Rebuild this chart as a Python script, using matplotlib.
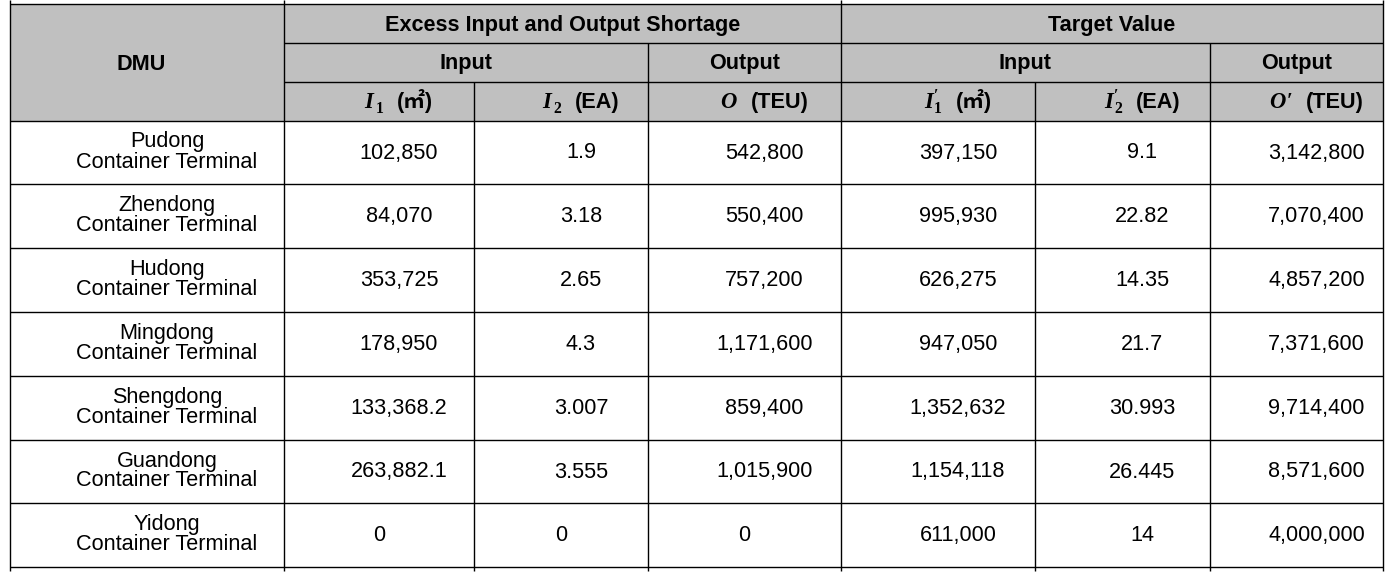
import matplotlib
matplotlib.use("Agg")
import matplotlib.pyplot as plt
from matplotlib.patches import Rectangle

FAM = ['Liberation Sans', 'Noto Sans CJK SC', 'DejaVu Sans']
SERIF = ['Liberation Serif', 'DejaVu Serif']

# ---- data ----
dmus = ["Pudong", "Zhendong", "Hudong", "Mingdong", "Shengdong", "Guandong", "Yidong"]
dmu_suffix = "Container Terminal"
excess_i1 = ["102,850", "84,070", "353,725", "178,950", "133,368.2", "263,882.1", "0"]
excess_i2 = ["1.9", "3.18", "2.65", "4.3", "3.007", "3.555", "0"]
shortage_o = ["542,800", "550,400", "757,200", "1,171,600", "859,400", "1,015,900", "0"]
target_i1 = ["397,150", "995,930", "626,275", "947,050", "1,352,632", "1,154,118", "611,000"]
target_i2 = ["9.1", "22.82", "14.35", "21.7", "30.993", "26.445", "14"]
target_o = ["3,142,800", "7,070,400", "4,857,200", "7,371,600", "9,714,400", "8,571,600", "4,000,000"]
group_headers = ["Excess Input and Output Shortage", "Target Value"]
sub_headers = ["Input", "Output", "Input", "Output"]
# (symbol, prime, subscript, unit)
col_symbols = ["I", "I", "O", "I", "I", "O"]
col_primes = [False, False, False, True, True, True]
col_subs = ["1", "2", "", "1", "2", ""]
col_units = ["(㎡)", "(EA)", "(TEU)", "(㎡)", "(EA)", "(TEU)"]

# ---- layout ----
W, H = 1393, 576
xs = [10, 284, 474, 648, 841, 1035, 1210, 1383]
ys_head = [4, 43, 82, 121]
ys_rows = [121, 184, 248, 312, 376, 440, 503, 567]
FS = 15.6
HEAD_BG = "#c0c0c0"
OFF = 20  # data text offset to the right

fig = plt.figure(figsize=(W / 100, H / 100), dpi=100)
ax = fig.add_axes([0, 0, 1, 1])
ax.set_xlim(0, W)
ax.set_ylim(H, 0)
ax.axis("off")
renderer = fig.canvas.get_renderer()

ax.add_patch(Rectangle((xs[0], ys_head[0]), xs[-1] - xs[0], ys_head[-1] - ys_head[0],
                       facecolor=HEAD_BG, edgecolor="none", zorder=0))

def txt(x, y, s, bold=False, va="baseline"):
    ax.text(x, y, s, ha="center", va=va, fontsize=FS, family=FAM,
            fontweight="bold" if bold else "normal", color="black", zorder=3)

def hline(y, x0, x1):
    ax.plot([x0, x1], [y, y], color="black", lw=1.0, solid_capstyle="butt", zorder=2)

def vline(x, y0, y1):
    ax.plot([x, x], [y0, y1], color="black", lw=1.0, solid_capstyle="butt", zorder=2)

def composite(xc, yb, sym, prime, sub, unit):
    # pieces: (text, kwargs, dy, va, gap_before)
    pieces = [(sym, dict(family=SERIF, style="italic", fontweight="bold", fontsize=16.3),
               0, "baseline", 0)]
    if prime and sub:
        pieces.append(("′\n" + sub, dict(family=SERIF, fontweight="bold", fontsize=11.3,
                                          linespacing=0.75), 5, "baseline", 1))
    elif prime:
        pieces.append(("′", dict(family=SERIF, fontweight="bold", fontsize=15), -1, "baseline", 1))
    elif sub:
        pieces.append((sub, dict(family=SERIF, fontweight="bold", fontsize=11.3), 5, "baseline", 2))
    pieces.append((unit, dict(family=FAM, fontweight="bold", fontsize=FS), 0, "baseline", 14))
    objs = []
    x = 0.0
    for s, kw, dy, va, gap in pieces:
        x += gap
        t = ax.text(x, yb + dy, s, ha="left", va=va, color="black", zorder=3, **kw)
        w = t.get_window_extent(renderer).width
        objs.append(t)
        x += w
    total = x
    x0 = xc - total / 2
    for t in objs:
        px, py = t.get_position()
        t.set_position((px + x0, py))

# header texts
txt((xs[0] + xs[1]) / 2 - 6, (ys_head[0] + ys_head[3]) / 2 + 8, "DMU", bold=True)
txt((xs[1] + xs[4]) / 2, (ys_head[0] + ys_head[1]) / 2 + 7.5, group_headers[0], bold=True)
txt((xs[4] + xs[7]) / 2, (ys_head[0] + ys_head[1]) / 2 + 7.5, group_headers[1], bold=True)
spans = [(1, 3), (3, 4), (4, 6), (6, 7)]
for (a, b), s in zip(spans, sub_headers):
    txt((xs[a] + xs[b]) / 2, (ys_head[1] + ys_head[2]) / 2 + 7, s, bold=True)
for j in range(6):
    composite((xs[j + 1] + xs[j + 2]) / 2 + OFF, (ys_head[2] + ys_head[3]) / 2 + 6.5,
              col_symbols[j], col_primes[j], col_subs[j], col_units[j])

# body
cols = [excess_i1, excess_i2, shortage_o, target_i1, target_i2, target_o]
for i, name in enumerate(dmus):
    yc = (ys_rows[i] + ys_rows[i + 1]) / 2
    xc0 = (xs[0] + xs[1]) / 2 + OFF
    txt(xc0, yc - 5, name)
    txt(xc0, yc + 15, dmu_suffix)
    for j, col in enumerate(cols):
        v = col[i]
        off = 0 if v == "0" else OFF
        txt((xs[j + 1] + xs[j + 2]) / 2 + off, yc + 6, v)

# grid lines
hline(ys_head[0], xs[0], xs[-1])
hline(ys_head[1], xs[1], xs[-1])
hline(ys_head[2], xs[1], xs[-1])
for y in ys_rows:
    hline(y, xs[0], xs[-1])
for k, x in enumerate(xs):
    if k in (0, 1, 4, 7):
        vline(x, 0, 571)
    elif k in (3, 6):
        vline(x, ys_head[1], 571)
    else:
        vline(x, ys_head[2], 571)

fig.savefig("out.png", dpi=100)
